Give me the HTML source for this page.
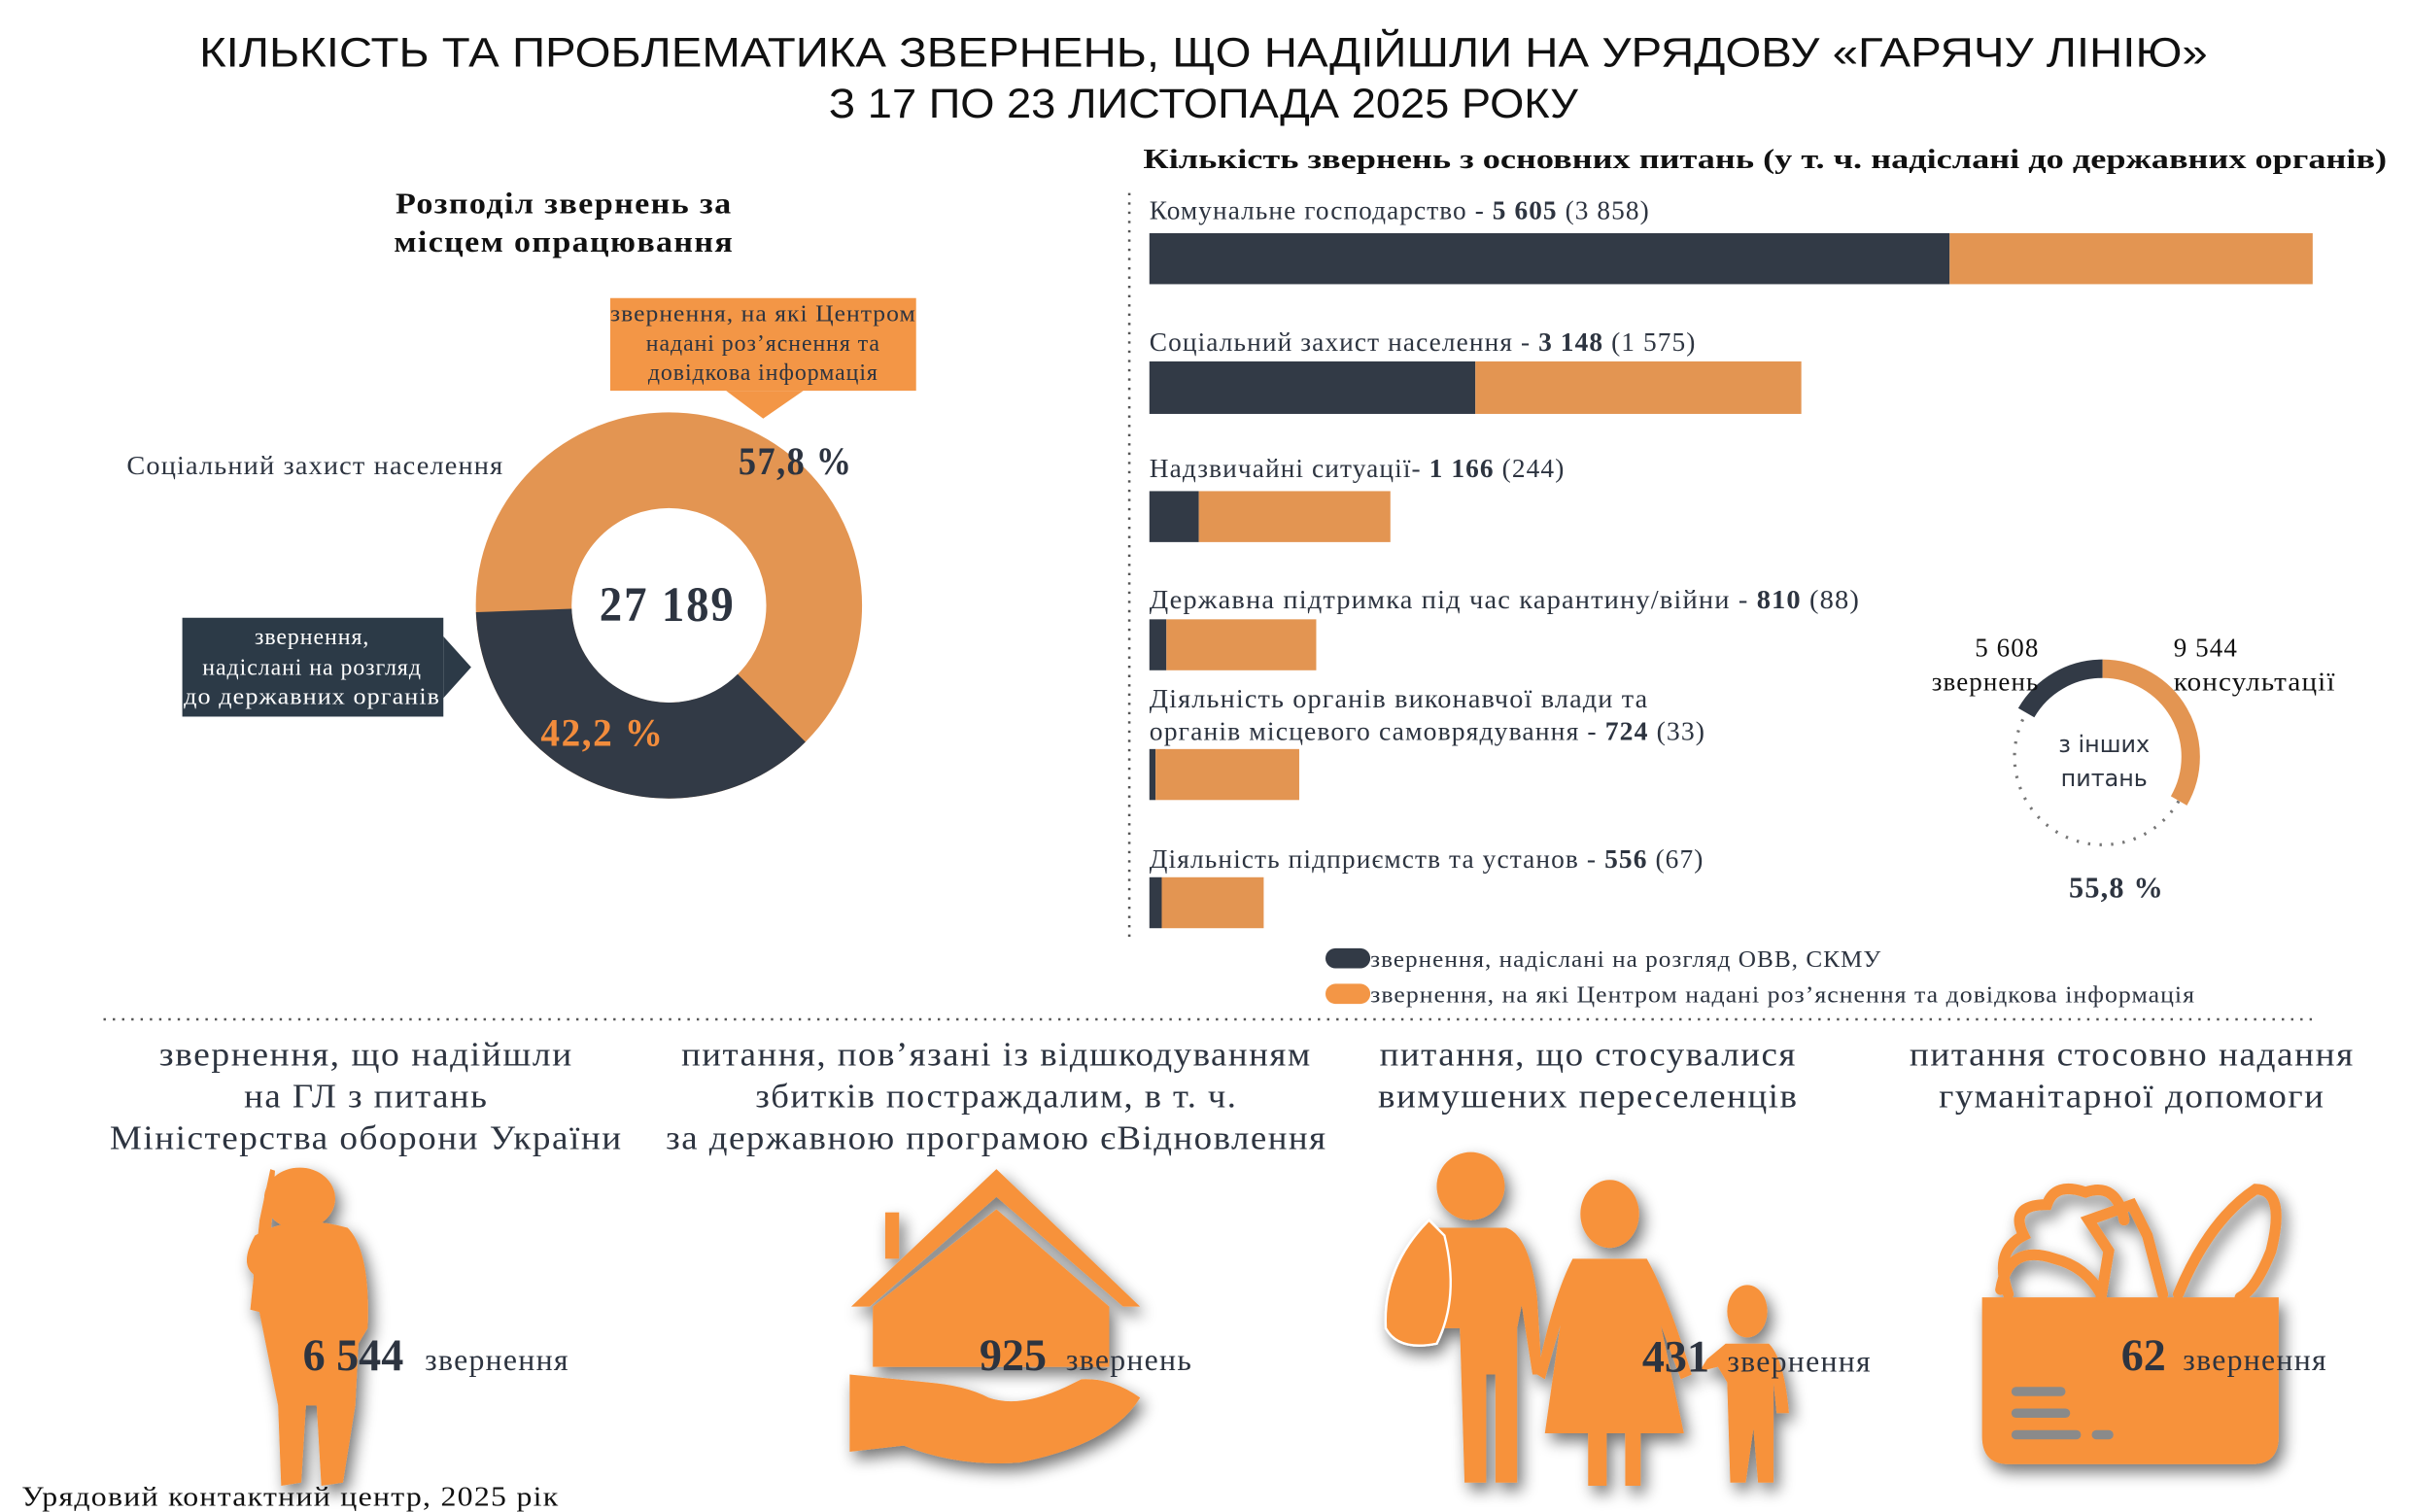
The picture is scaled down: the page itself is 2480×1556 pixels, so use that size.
<!DOCTYPE html>
<html><head><meta charset="utf-8"><style>
html,body{margin:0;padding:0;background:#fff;}
svg{display:block;}
text{font-family:"Liberation Serif","DejaVu Serif",serif;fill:#2d3440;letter-spacing:0.04em;}
</style></head><body>
<svg width="2480" height="1556" viewBox="0 0 1560 979" preserveAspectRatio="none" xmlns="http://www.w3.org/2000/svg">
<defs>
<filter id="sh" x="-30%" y="-30%" width="160%" height="160%"><feGaussianBlur in="SourceAlpha" stdDeviation="5"/><feOffset dx="3" dy="5"/><feComponentTransfer><feFuncA type="linear" slope="0.55"/></feComponentTransfer><feMerge><feMergeNode/><feMergeNode in="SourceGraphic"/></feMerge></filter>
</defs>
<rect width="1560" height="979" fill="#fff"/>
<!-- Title -->
<text x="779" y="43" font-size="27" text-anchor="middle" textLength="1300" lengthAdjust="spacingAndGlyphs" style="font-family:'Liberation Sans Narrow','Liberation Sans',sans-serif;fill:#111;letter-spacing:0">КІЛЬКІСТЬ ТА ПРОБЛЕМАТИКА ЗВЕРНЕНЬ, ЩО НАДІЙШЛИ НА УРЯДОВУ «ГАРЯЧУ ЛІНІЮ»</text>
<text x="779" y="76" font-size="27" text-anchor="middle" textLength="485" lengthAdjust="spacingAndGlyphs" style="font-family:'Liberation Sans Narrow','Liberation Sans',sans-serif;fill:#111;letter-spacing:0">З 17 ПО 23 ЛИСТОПАДА 2025 РОКУ</text>

<!-- Left donut -->
<text x="365" y="138" font-size="19" font-weight="bold" text-anchor="middle" style="fill:#111" textLength="218" lengthAdjust="spacingAndGlyphs">Розподіл звернень за</text>
<text x="365" y="163" font-size="19" font-weight="bold" text-anchor="middle" style="fill:#111" textLength="220" lengthAdjust="spacingAndGlyphs">місцем опрацювання</text>
<rect x="395" y="193" width="198" height="60" fill="#F39646"/>
<polygon points="470,253 520,253 494,271" fill="#F39646"/>
<text x="494" y="208" font-size="15" text-anchor="middle" textLength="198" lengthAdjust="spacingAndGlyphs">звернення, на які Центром</text>
<text x="494" y="227" font-size="15" text-anchor="middle">надані роз’яснення та</text>
<text x="494" y="246" font-size="15" text-anchor="middle">довідкова інформація</text>
<g transform="translate(433,392)">
<circle r="94" fill="none" stroke="#E39552" stroke-width="62"/>
<path d="M -124.9 4.4 A 125 125 0 0 0 88.4 88.4 L 44.5 44.5 A 63 63 0 0 1 -62.96 2.2 Z" fill="#323A46"/>
</g>
<text x="515" y="307" font-size="25" font-weight="bold" text-anchor="middle" textLength="74" lengthAdjust="spacingAndGlyphs">57,8 %</text>
<text x="432" y="402" font-size="32" font-weight="bold" text-anchor="middle" textLength="88" lengthAdjust="spacingAndGlyphs">27 189</text>
<text x="390" y="483" font-size="25" font-weight="bold" text-anchor="middle" style="fill:#F28C3C" textLength="80" lengthAdjust="spacingAndGlyphs">42,2 %</text>
<text x="82" y="307" font-size="17" textLength="244" lengthAdjust="spacingAndGlyphs">Соціальний захист населення</text>
<rect x="118" y="400" width="169" height="64" fill="#2C3A47"/>
<polygon points="287,412 305,432 287,452" fill="#2C3A47"/>
<text x="202" y="417" font-size="15" text-anchor="middle" style="fill:#fff">звернення,</text>
<text x="202" y="437" font-size="15" text-anchor="middle" style="fill:#fff">надіслані на розгляд</text>
<text x="202" y="456" font-size="15" text-anchor="middle" style="fill:#fff" textLength="166" lengthAdjust="spacingAndGlyphs">до державних органів</text>

<!-- Right bars -->
<text x="740" y="109" font-size="18" font-weight="bold" textLength="805" lengthAdjust="spacingAndGlyphs" style="fill:#111;letter-spacing:0">Кількість звернень з основних питань (у т. ч. надіслані до державних органів)</text>
<line x1="731" y1="125" x2="731" y2="607" stroke="#555" stroke-width="1.6" stroke-dasharray="1.5 4.5"/>
<g font-size="17">
<text x="744" y="142" textLength="324" lengthAdjust="spacingAndGlyphs">Комунальне господарство - <tspan font-weight="bold">5 605</tspan> (3 858)</text>
<rect x="744" y="151" width="518" height="33" fill="#323A46"/><rect x="1262" y="151" width="235" height="33" fill="#E39552"/>
<text x="744" y="227" textLength="354" lengthAdjust="spacingAndGlyphs">Соціальний захист населення - <tspan font-weight="bold">3 148</tspan> (1 575)</text>
<rect x="744" y="234" width="211" height="34" fill="#323A46"/><rect x="955" y="234" width="211" height="34" fill="#E39552"/>
<text x="744" y="309" textLength="269" lengthAdjust="spacingAndGlyphs">Надзвичайні ситуації- <tspan font-weight="bold">1 166</tspan> (244)</text>
<rect x="744" y="318" width="32" height="33" fill="#323A46"/><rect x="776" y="318" width="124" height="33" fill="#E39552"/>
<text x="744" y="394" textLength="460" lengthAdjust="spacingAndGlyphs">Державна підтримка під час карантину/війни - <tspan font-weight="bold">810</tspan> (88)</text>
<rect x="744" y="401" width="11" height="33" fill="#323A46"/><rect x="755" y="401" width="97" height="33" fill="#E39552"/>
<text x="744" y="458" textLength="323" lengthAdjust="spacingAndGlyphs">Діяльність органів виконавчої влади та</text>
<text x="744" y="479" textLength="360" lengthAdjust="spacingAndGlyphs">органів місцевого самоврядування - <tspan font-weight="bold">724</tspan> (33)</text>
<rect x="744" y="485" width="4" height="33" fill="#323A46"/><rect x="748" y="485" width="93" height="33" fill="#E39552"/>
<text x="744" y="562" textLength="359" lengthAdjust="spacingAndGlyphs">Діяльність підприємств та установ - <tspan font-weight="bold">556</tspan> (67)</text>
<rect x="744" y="568" width="8" height="33" fill="#323A46"/><rect x="752" y="568" width="66" height="33" fill="#E39552"/>
</g>
<rect x="858" y="614" width="29" height="13" rx="6.5" fill="#323A46"/>
<text x="887" y="626" font-size="15" textLength="331" lengthAdjust="spacingAndGlyphs">звернення, надіслані на розгляд ОВВ, СКМУ</text>
<rect x="858" y="637" width="29" height="13" rx="6.5" fill="#F39646"/>
<text x="887" y="649" font-size="15" textLength="534" lengthAdjust="spacingAndGlyphs">звернення, на які Центром надані роз’яснення та довідкова інформація</text>

<!-- small donut -->
<g transform="translate(1361,490)">
<circle r="57" fill="none" stroke="#777" stroke-width="2" stroke-dasharray="1.5 6"/>
<path d="M -49.4 -28.5 A 57 57 0 0 1 0 -57" fill="none" stroke="#323A46" stroke-width="12"/>
<path d="M 0 -57 A 57 57 0 0 1 49.4 28.5" fill="none" stroke="#E39552" stroke-width="12"/>
</g>
<text x="1362" y="487" font-size="15" text-anchor="middle" style="font-family:'DejaVu Sans','Liberation Sans',sans-serif;letter-spacing:0">з інших</text>
<text x="1362" y="509" font-size="15" text-anchor="middle" style="font-family:'DejaVu Sans','Liberation Sans',sans-serif;letter-spacing:0">питань</text>
<text x="1320" y="425" font-size="17" text-anchor="end" style="fill:#111">5 608</text>
<text x="1320" y="447" font-size="17" text-anchor="end" style="fill:#111">звернень</text>
<text x="1407" y="425" font-size="17" style="fill:#111">9 544</text>
<text x="1407" y="447" font-size="17" style="fill:#111" textLength="105" lengthAdjust="spacingAndGlyphs">консультації</text>
<text x="1370" y="581" font-size="19" font-weight="bold" text-anchor="middle">55,8 %</text>

<line x1="67" y1="660" x2="1500" y2="660" stroke="#555" stroke-width="1.6" stroke-dasharray="1.5 4.5"/>

<!-- bottom headings -->
<g font-size="22" text-anchor="middle">
<text x="237" y="690" textLength="268" lengthAdjust="spacingAndGlyphs">звернення, що надійшли</text>
<text x="237" y="717" textLength="158" lengthAdjust="spacingAndGlyphs">на ГЛ з питань</text>
<text x="237" y="744" textLength="332" lengthAdjust="spacingAndGlyphs">Міністерства оборони України</text>
<text x="645" y="690" textLength="408" lengthAdjust="spacingAndGlyphs">питання, пов’язані із відшкодуванням</text>
<text x="645" y="717" textLength="312" lengthAdjust="spacingAndGlyphs">збитків постраждалим, в т. ч.</text>
<text x="645" y="744" textLength="428" lengthAdjust="spacingAndGlyphs">за державною програмою єВідновлення</text>
<text x="1028" y="690" textLength="270" lengthAdjust="spacingAndGlyphs">питання, що стосувалися</text>
<text x="1028" y="717" textLength="272" lengthAdjust="spacingAndGlyphs">вимушених переселенців</text>
<text x="1380" y="690" textLength="288" lengthAdjust="spacingAndGlyphs">питання стосовно надання</text>
<text x="1380" y="717" textLength="250" lengthAdjust="spacingAndGlyphs">гуманітарної допомоги</text>
</g>

<!-- icons -->
<g fill="#F7923A" filter="url(#sh)">
<path d="M175,757 L178,758 L176,790 L170,850 L162,848 L168,790 Z"/>
<ellipse cx="194" cy="776" rx="23" ry="20"/>
<path d="M165,800 Q190,785 225,795 Q240,810 238,860 L232,870 L230,910 L222,960 L208,962 L205,910 L198,910 L195,960 L182,962 L180,910 L172,870 L168,850 L164,825 Q155,818 165,800 Z"/>
<polygon points="551,846 645,757 738,846 727,846 645,775 563,846"/>
<rect x="573" y="785" width="9" height="30"/>
<polygon points="565,846 645,783 718,846 718,885 565,885"/>
<path d="M550,890 L600,895 Q625,897 640,905 L640,905 Q660,912 690,898 L700,893 Q720,892 738,905 Q720,935 660,947 Q620,950 585,936 L550,940 Z"/>
<circle cx="952" cy="768" r="22"/>
<path d="M925,795 L975,795 Q990,800 995,840 L998,890 L992,890 L985,845 L982,860 L982,960 L968,960 L968,890 L962,890 L962,960 L948,960 L945,860 L930,860 L925,820 Z"/>
<path d="M925,790 Q895,820 897,860 Q905,875 930,870 Q945,840 935,800 Z" stroke="#fff" stroke-width="1.5"/>
<ellipse cx="1042" cy="786" rx="19" ry="22"/>
<path d="M1018,815 L1066,815 Q1080,840 1095,890 L1088,893 L1075,858 L1090,928 L1062,928 L1062,962 L1052,962 L1052,928 L1040,928 L1040,962 L1028,962 L1028,928 L1000,928 L1010,858 L1000,893 L995,890 Q1005,840 1018,815 Z"/>
<ellipse cx="1131" cy="849" rx="13" ry="17"/>
<path d="M1117,870 L1145,870 Q1155,880 1158,915 L1150,915 L1148,895 L1148,960 L1138,960 L1135,925 L1130,960 L1120,960 L1118,895 L1112,885 L1100,888 L1105,880 Z"/>
<path d="M1283,840 L1475,840 L1475,930 Q1475,948 1458,948 L1300,948 Q1283,948 1283,930 Z"/>
<g fill="none" stroke="#F7923A" stroke-width="7" stroke-linecap="round">
<path d="M1300,838 Q1290,810 1310,800 Q1300,780 1325,780 Q1330,765 1350,772 Q1370,765 1375,790"/>
<path d="M1295,835 Q1300,805 1330,815 Q1350,820 1360,838"/>
<path d="M1360,840 L1365,810 L1352,790 L1380,780 L1390,800 L1400,838"/>
<path d="M1410,838 Q1430,790 1460,770 Q1480,770 1470,810 Q1460,835 1450,840"/>
</g>
</g>
<g fill="#8a8a8a">
<rect x="1302" y="898" width="35" height="6" rx="3"/><rect x="1302" y="912" width="38" height="6" rx="3"/><rect x="1302" y="926" width="45" height="6" rx="3"/><rect x="1354" y="926" width="14" height="6" rx="3"/>
</g>

<!-- numbers -->
<text x="196" y="887" font-size="29" font-weight="bold" style="letter-spacing:0">6 544</text><text x="275" y="887" font-size="20">звернення</text>
<text x="634" y="887" font-size="29" font-weight="bold" style="letter-spacing:0">925</text><text x="690" y="887" font-size="20">звернень</text>
<text x="1063" y="888" font-size="29" font-weight="bold" style="letter-spacing:0">431</text><text x="1118" y="888" font-size="20">звернення</text>
<text x="1373" y="887" font-size="29" font-weight="bold" style="letter-spacing:0">62</text><text x="1413" y="887" font-size="20">звернення</text>

<text x="14" y="975" font-size="18" style="fill:#111" textLength="348" lengthAdjust="spacingAndGlyphs">Урядовий контактний центр, 2025 рік</text>
</svg>
</body></html>
